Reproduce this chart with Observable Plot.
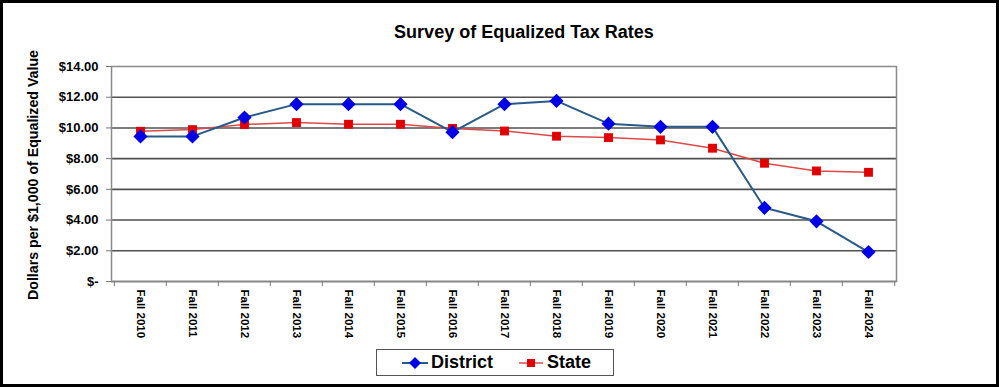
<!DOCTYPE html>
<html><head><meta charset="utf-8">
<script src="https://cdn.jsdelivr.net/npm/d3@7"></script>
<script src="https://cdn.jsdelivr.net/npm/@observablehq/plot@0.6"></script>
<style>
body{margin:0;background:#fff;}
#wrap{position:relative;width:999px;height:387px;overflow:hidden;font-family:"Liberation Sans",Arial,sans-serif;background:#fff;}
#wrap svg{position:absolute;left:0;top:0;}
#title{position:absolute;left:0;width:1048px;top:22px;text-align:center;font-weight:bold;font-size:18px;color:#000;}
#ylabel{position:absolute;left:33px;top:175px;transform:translate(-50%,-50%) rotate(-90deg);white-space:nowrap;font-weight:bold;font-size:14.2px;color:#000;}
#legend{position:absolute;left:376px;top:349px;width:236px;height:25px;border:1px solid #555;box-sizing:content-box;display:flex;align-items:center;font-weight:bold;font-size:18px;color:#000;}
#legend .item{display:flex;align-items:center;}
#legend svg{position:static;}
#border{position:absolute;left:0;top:0;width:999px;height:387px;box-sizing:border-box;border:3px solid #000;pointer-events:none;}
</style></head><body>
<div id="wrap">
<div id="title">Survey of Equalized Tax Rates</div>
<div id="ylabel">Dollars per $1,000 of Equalized Value</div>
<div id="legend">
  <div class="item" style="margin-left:25px"><svg width="26" height="16" viewBox="0 0 26 16"><line x1="0" y1="8" x2="26" y2="8" stroke="#285a87" stroke-width="2"/><path d="M13 2 L19 8 L13 14 L7 8 Z" fill="#0000e6"/></svg><span style="margin-left:3px">District</span></div>
  <div class="item" style="margin-left:26px"><svg width="24" height="16" viewBox="0 0 24 16"><line x1="0" y1="8" x2="24" y2="8" stroke="#e04848" stroke-width="1.5"/><rect x="8" y="4" width="8" height="8" fill="#e00000"/></svg><span style="margin-left:4px">State</span></div>
</div>
<div id="border"></div>
</div>
<script>
const years = ["Fall 2010","Fall 2011","Fall 2012","Fall 2013","Fall 2014","Fall 2015","Fall 2016","Fall 2017","Fall 2018","Fall 2019","Fall 2020","Fall 2021","Fall 2022","Fall 2023","Fall 2024"];
const district = [9.45,9.45,10.68,11.55,11.55,11.55,9.72,11.55,11.76,10.28,10.07,10.07,4.80,3.92,1.92];
const state = [9.78,9.89,10.22,10.35,10.24,10.24,9.97,9.80,9.46,9.37,9.22,8.68,7.70,7.20,7.11];
const yTicks = [0,2,4,6,8,10,12,14];
const gridTicks = [0,2,4,6,8,10,12];

const dData = years.map((y,i)=>({year:y, value:district[i]}));
const sData = years.map((y,i)=>({year:y, value:state[i]}));

const W = 999, H = 387, ML = 111, MR = 103, MT = 66, MB = 106;
const bw = (W - ML - MR) / years.length;

const chart = Plot.plot({
  width: W, height: H,
  marginLeft: ML, marginRight: MR, marginTop: MT, marginBottom: MB,
  style: {fontFamily: "'Liberation Sans', Arial, sans-serif", fontWeight: "bold", color: "#000", background: "transparent"},
  x: {type: "band", domain: years, padding: 0, axis: null, label: null},
  y: {domain: [0, 14], axis: null, label: null},
  marks: [
    Plot.ruleY(gridTicks, {stroke: "#505050", strokeWidth: 1.6}),
    Plot.frame({stroke: "#8a8a8a", strokeWidth: 1.5}),
    Plot.axisY({ticks: yTicks, tickSize: 5, tickPadding: 8, fontSize: 13, stroke: "#777", label: null,
      tickFormat: d => d === 0 ? "$-" : "$" + d.toFixed(2)}),
    Plot.axisX({tickSize: 5, stroke: "#777", label: null, tickFormat: () => "", dx: -bw/2}),
    Plot.axisX([years[years.length-1]], {tickSize: 5, stroke: "#777", label: null, tickFormat: () => "", dx: bw/2}),
    Plot.axisX({tickSize: 0, tickPadding: 8, tickRotate: 90, fontSize: 11.5, label: null}),
    Plot.line(sData, {x: "year", y: "value", stroke: "#e04848", strokeWidth: 1.5}),
    Plot.dot(sData, {x: "year", y: "value", symbol: "square", r: 5, fill: "#e00000", stroke: "none"}),
    Plot.line(dData, {x: "year", y: "value", stroke: "#285a87", strokeWidth: 2}),
    Plot.dot(dData, {x: "year", y: "value", symbol: "diamond2", r: 6.4, fill: "#0000e6", stroke: "none"})
  ]
});
document.getElementById("wrap").prepend(chart);
</script>
</body></html>
